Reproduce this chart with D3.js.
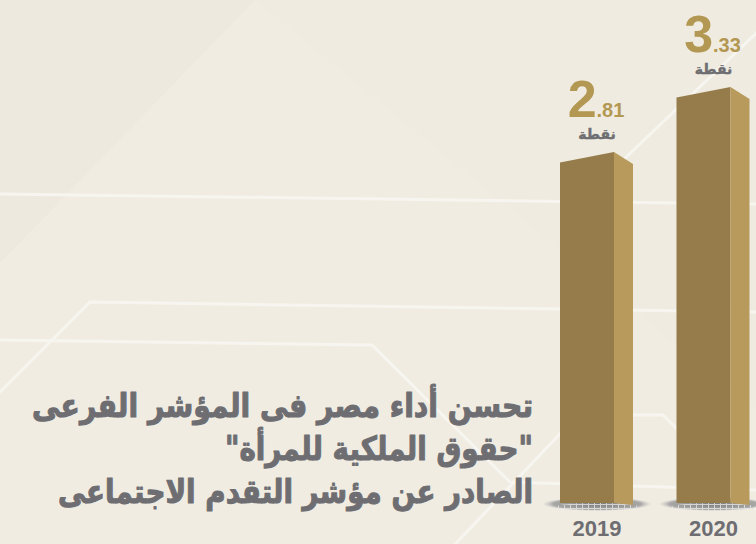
<!DOCTYPE html>
<html>
<head>
<meta charset="utf-8">
<title>حقوق الملكية للمرأة</title>
<style>
    html, body { margin: 0; padding: 0; background: #efebe1; }
    svg { display: block; }
</style>
</head>
<body>
<div id="chart"></div>
<script src="https://d3js.org/d3.v7.min.js"></script>
<script>
    // data
    var years = ["2019", "2020"];
    var values = [2.81, 3.33];
    var unitLabel = "نقطة";
    var titleLines = [
        "تحسن أداء مصر فى المؤشر الفرعى",
        "\"حقوق الملكية للمرأة\"",
        "الصادر عن مؤشر التقدم الاجتماعى"
    ];

    var width = 756, height = 544;
    var gold = "#b39853", front = "#977c4b", side = "#b89b5c", grey = "#6e6e72";

    var svg = d3.select("#chart").append("svg")
        .attr("width", width)
        .attr("height", height);

    var defs = svg.append("defs");
    var grad = defs.append("radialGradient").attr("id", "shadow");
    grad.append("stop").attr("offset", "0%").attr("stop-color", "#7a7a7a").attr("stop-opacity", 1);
    grad.append("stop").attr("offset", "80%").attr("stop-color", "#9c9c9c").attr("stop-opacity", 0.85);
    grad.append("stop").attr("offset", "100%").attr("stop-color", "#c8c8c8").attr("stop-opacity", 0);
    var pat = defs.append("pattern").attr("id", "grid")
        .attr("patternUnits", "userSpaceOnUse").attr("width", 6).attr("height", 4);
    pat.append("path").attr("d", "M0 0.5H6M0.5 0V4").attr("stroke", "#e6e6e6").attr("stroke-width", 1);

    // background
    svg.append("rect").attr("width", width).attr("height", height).attr("fill", "#ede9de");
    svg.append("path")
        .attr("d", "M0 263L255 0L756 0L756 544L0 544Z")
        .attr("fill", "#f0ece2");
    svg.append("path")
        .attr("d", "M255 0L756 0L756 410Z")
        .attr("fill", "#efebe0");

    var deco = [
        [[0, 194], [756, 204]],
        [[600, 182], [770, 20]],
        [[-5, 397], [90, 302], [756, 312]],
        [[0, 340], [372, 345], [510, 482], [756, 490]],
        [[440, 560], [578, 415], [663, 415], [760, 512]]
    ];
    svg.append("g").selectAll("path")
        .data(deco)
        .enter().append("path")
        .attr("d", d3.line())
        .attr("fill", "none")
        .attr("stroke", "#f7f5ef")
        .attr("stroke-width", 3);

    // scales
    var x = d3.scaleBand().domain(years).range([538.5, 771.5]).padding(0);
    var y = d3.scaleLinear().domain([0, 3.33]).range([503, 87]);

    var frontW = 54, sideW = 19, inset = 21.5;
    function mid(d) { return x(d) + inset + 37; }

    var bars = svg.append("g").selectAll("g")
        .data(years)
        .enter().append("g");

    // floor shadow
    bars.append("ellipse")
        .attr("cx", mid)
        .attr("cy", 504)
        .attr("rx", 55).attr("ry", 7)
        .attr("fill", "url(#shadow)");
    bars.append("ellipse")
        .attr("cx", mid)
        .attr("cy", 507)
        .attr("rx", 42).attr("ry", 4)
        .attr("fill", "url(#grid)")
        .attr("opacity", 0.8);

    bars.append("path")
        .attr("fill", front)
        .attr("d", function (d, i) {
            var x0 = x(d) + inset, x1 = x0 + frontW, top = y(values[i]);
            return "M" + x0 + "," + (top + 10.5) + "L" + x1 + "," + top +
                "L" + x1 + "," + y(0) + "L" + x0 + "," + y(0) + "Z";
        });
    bars.append("path")
        .attr("fill", side)
        .attr("d", function (d, i) {
            var x1 = x(d) + inset + frontW, x2 = x1 + sideW, top = y(values[i]);
            return "M" + x1 + "," + top + "L" + x2 + "," + (top + 12) +
                "L" + x2 + "," + (y(0) + 2) + "L" + x1 + "," + y(0) + "Z";
        });

    // value labels
    var lab = bars.append("text")
        .attr("x", function (d) { return mid(d) - 1; })
        .attr("y", function (d, i) { return y(values[i]) - 35; })
        .attr("text-anchor", "middle")
        .attr("fill", gold)
        .style("font-family", "'Liberation Sans', Arial, sans-serif")
        .style("font-weight", "bold");
    lab.append("tspan")
        .style("font-size", "52px")
        .text(function (d, i) { return String(values[i]).split(".")[0]; });
    lab.append("tspan")
        .style("font-size", "20px")
        .text(function (d, i) { return "." + String(values[i]).split(".")[1]; });

    bars.append("text")
        .attr("x", mid)
        .attr("y", function (d, i) { return y(values[i]) - 13; })
        .attr("text-anchor", "middle")
        .attr("fill", grey)
        .attr("stroke", grey)
        .attr("stroke-width", 0.4)
        .style("font-family", "'DejaVu Sans', sans-serif")
        .style("font-weight", "bold")
        .style("font-size", "14px")
        .text(unitLabel);

    // year labels
    bars.append("text")
        .attr("x", mid)
        .attr("y", 536)
        .attr("text-anchor", "middle")
        .attr("fill", grey)
        .style("font-family", "'Liberation Sans', Arial, sans-serif")
        .style("font-weight", "bold")
        .style("font-size", "22px")
        .text(function (d) { return d; });

    // title
    var titleWidths = [501, 308, 475];
    svg.append("g").selectAll("text")
        .data(titleLines)
        .enter().append("text")
        .attr("x", 533)
        .attr("y", function (d, i) { return 417 + i * 43; })
        .attr("direction", "rtl")
        .attr("text-anchor", "start")
        .attr("textLength", function (d, i) { return titleWidths[i]; })
        .attr("lengthAdjust", "spacingAndGlyphs")
        .attr("fill", grey)
        .attr("stroke", grey)
        .attr("stroke-width", 1.1)
        .attr("stroke-linejoin", "round")
        .style("font-family", "'DejaVu Sans', sans-serif")
        .style("font-weight", "bold")
        .style("font-size", "33px")
        .text(function (d) { return d; });
</script>
</body>
</html>
